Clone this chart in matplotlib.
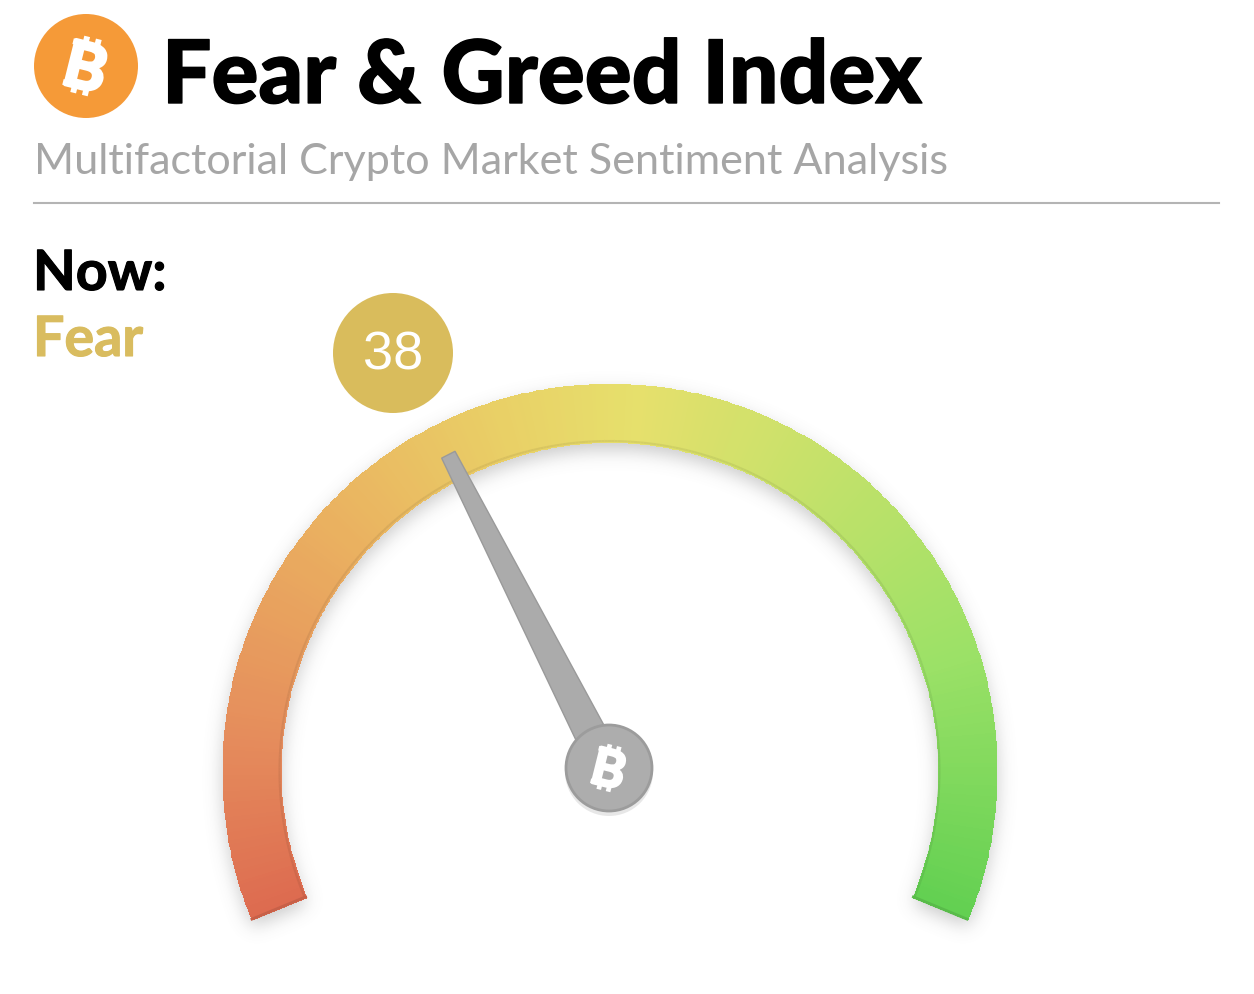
import numpy as np
import matplotlib.pyplot as plt
import matplotlib.patheffects as pe
from matplotlib.collections import LineCollection
from matplotlib.colors import LinearSegmentedColormap, to_rgb
from matplotlib.patches import Circle, Polygon

# text and reading
title = 'Fear & Greed Index'
subtitle = 'Multifactorial Crypto Market Sentiment Analysis'
now_label = 'Now:'
state_label = 'Fear'
value = 38
scale_min = 0
scale_max = 100

# gauge colours from the low end to the high end
stop_positions = [0.0, 0.12, 0.28, 0.42, 0.52, 0.66, 0.82, 1.0]
stop_colors = ['#dd6b50', '#e58c5c', '#eab060', '#e9cf66', '#e6e06c', '#c4e16a', '#9ce167', '#63d052']

# gauge geometry in pixels
cx, cy = 609.5, 771
r_out, r_in = 387, 329
start_deg, end_deg = 202.5, -22.5


def angle_of(v):
    frac = (v - scale_min) / (scale_max - scale_min)
    return start_deg + frac * (end_deg - start_deg)


def polar(r, deg):
    a = np.radians(deg)
    return cx + r * np.cos(a), cy - r * np.sin(a)


def bitcoin(x, y, size, color='white', zorder=10):
    # B with the two little bars top and bottom, tilted like the logo
    tilt = np.radians(14)
    ux, uy = np.sin(tilt), -np.cos(tilt)  # up along the glyph
    rx, ry = np.cos(tilt), np.sin(tilt)   # right along the glyph
    fs = size * 0.92
    for off in (-0.12, 0.12):
        px = x + off * size * rx
        py = y + off * size * ry
        for sgn in (1, -1):
            ax.plot([px + sgn * 0.36 * size * ux, px + sgn * 0.58 * size * ux],
                    [py + sgn * 0.36 * size * uy, py + sgn * 0.58 * size * uy],
                    color=color, lw=size * 0.085, solid_capstyle='butt', zorder=zorder)
    # small serifs sticking out on the left
    for sgn in (1, -1):
        sx = x + sgn * 0.42 * size * ux - 0.17 * size * rx
        sy = y + sgn * 0.42 * size * uy - 0.17 * size * ry
        ax.plot([sx, sx - 0.2 * size * rx], [sy, sy - 0.2 * size * ry],
                color=color, lw=size * 0.085, solid_capstyle='butt', zorder=zorder)
    bx = x - ux * fs / 2
    by = y - uy * fs / 2
    ax.text(bx, by, 'B', color=color, fontsize=fs, family='Lato', weight='bold',
            rotation=-14, rotation_mode='anchor', ha='center', va='baseline', zorder=zorder + 1,
            path_effects=[pe.withStroke(linewidth=size * 0.05, foreground=color)])


W, H = 1254, 994
fig = plt.figure(figsize=(W / 100, H / 100), dpi=100, facecolor='white')
ax = fig.add_axes([0, 0, 1, 1])
ax.set_xlim(0, W)
ax.set_ylim(H, 0)
ax.axis('off')

# soft shadow under the arc
yy, xx = np.mgrid[0:H, 0:W]
rr = np.hypot(xx - cx, yy - (cy + 7))
th = np.degrees(np.arctan2(-(yy - (cy + 7)), xx - cx))
th = np.where(th < -90, th + 360, th)
mask = ((rr < r_out) & (rr > r_in) & (th > end_deg) & (th < start_deg)).astype(float)
kx = np.arange(-30, 31)
kernel = np.exp(-kx ** 2 / (2 * 9.0 ** 2))
kernel /= kernel.sum()
blur = np.apply_along_axis(lambda m: np.convolve(m, kernel, mode='same'), 0, mask)
blur = np.apply_along_axis(lambda m: np.convolve(m, kernel, mode='same'), 1, blur)
shadow = np.zeros((H, W, 4))
shadow[..., :3] = 0.45
shadow[..., 3] = blur * 0.38
ax.imshow(shadow, extent=(0, W, H, 0), zorder=1, aspect='auto', interpolation='bilinear')

# gradient arc
cmap = LinearSegmentedColormap.from_list('gauge', list(zip(stop_positions, stop_colors)))
thetas = np.linspace(start_deg, end_deg, 400)
radii = np.array([r_in, r_out])
T, R = np.meshgrid(thetas, radii)
X, Y = polar(R, T)
C = np.linspace(0, 1, 399)[None, :]
ax.pcolormesh(X, Y, C, cmap=cmap, vmin=0, vmax=1, shading='flat',
              edgecolor='face', linewidth=0.5, zorder=2)

# darker rim along the inner edge and the two ends
ex, ey = polar(r_in + 1, thetas)
pts = np.column_stack([ex, ey])
segs = np.stack([pts[:-1], pts[1:]], axis=1)
edge_cols = [tuple(0.93 * c for c in to_rgb(cmap(t))) for t in np.linspace(0, 1, 399)]
ax.add_collection(LineCollection(segs, colors=edge_cols, linewidths=1.5, zorder=3))
for deg, col in ((start_deg, stop_colors[0]), (end_deg, stop_colors[-1])):
    x0, y0 = polar(r_in, deg)
    x1, y1 = polar(r_out, deg)
    ax.plot([x0, x1], [y0, y1], color=tuple(0.9 * c for c in to_rgb(col)), lw=2, zorder=3)

# needle
needle_deg = angle_of(value)
tip_x, tip_y = polar(355, needle_deg)
ca, sa = np.cos(np.radians(needle_deg)), np.sin(np.radians(needle_deg))
nx, ny = sa, ca
needle = Polygon([(tip_x - 7.5 * nx, tip_y - 7.5 * ny), (tip_x + 7.5 * nx, tip_y + 7.5 * ny),
                  (cx + 17 * nx, cy + 17 * ny), (cx - 17 * nx, cy - 17 * ny)],
                 closed=True, fc='#ababab', ec='#9a9a9a', lw=1, zorder=4)
ax.add_patch(needle)

# hub
ax.add_patch(Circle((609, 772), 44, fc='#d8d8d8', ec='none', alpha=0.6, zorder=4))
ax.add_patch(Circle((609, 768), 43, fc='#adadad', ec='#9c9c9c', lw=2, zorder=5))
bitcoin(609, 768, 40)

# header
ax.add_patch(Circle((86, 66), 52, fc='#f59a38', ec='none', zorder=5))
bitcoin(86, 66, 50)
ax.text(162, 103, title, fontsize=63, family='Lato', weight='black', color='black',
        ha='left', va='baseline', zorder=5,
        path_effects=[pe.withStroke(linewidth=1.0, foreground='black')])
ax.text(33.5, 174, subtitle, fontsize=31.1, family='Lato', color='#a6a6a6',
        ha='left', va='baseline', zorder=5)
ax.plot([34, 1219], [203, 203], color='#b4b4b4', lw=1.5, zorder=5)
ax.text(33, 290, now_label, fontsize=40, family='Lato', weight='bold', color='black',
        ha='left', va='baseline', zorder=5, path_effects=[pe.withStroke(linewidth=0.8, foreground='black')])
ax.text(33, 356, state_label, fontsize=40, family='Lato', weight='bold', color='#d9bc5f',
        ha='left', va='baseline', zorder=5, path_effects=[pe.withStroke(linewidth=0.8, foreground='#d9bc5f')])

# value bubble
ax.add_patch(Circle((393, 353), 60, fc='#d9bc5c', ec='none', zorder=5))
ax.text(393, 356, str(value), fontsize=39, family='Liberation Sans', color='white',
        ha='center', va='center', zorder=6)

fig.savefig('out.png', dpi=100, facecolor='white')
plt.close(fig)
